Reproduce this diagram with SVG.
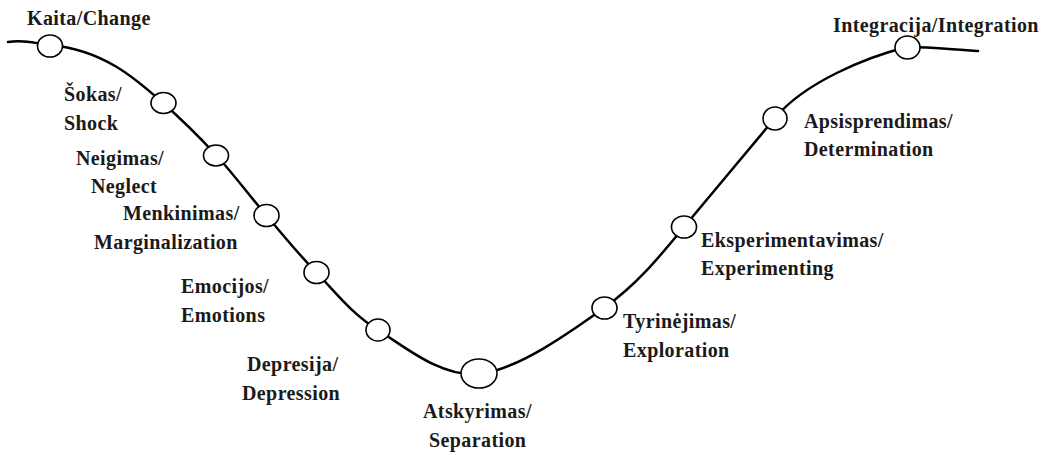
<svg xmlns="http://www.w3.org/2000/svg" width="1052" height="455" viewBox="0 0 1052 455">
<style>
.lbl{font-family:"Liberation Serif","Times New Roman",serif;font-weight:bold;font-size:20px;letter-spacing:0.4px;fill:#1a1a1a}
.node{fill:#fff;stroke:#000;stroke-width:1.6}
.curve{fill:none;stroke:#000;stroke-width:2.5;stroke-linecap:round}
</style>
<rect width="1052" height="455" fill="#fff"/>
<g id="connectors">
<path class="curve" d="M8,42 C20,40 30,42 50,45 C105,50 138,81 163,103 C181.7,119.5 198.8,136.3 216,155 C233.2,173.7 249.3,195.5 266,215 C282.7,234.5 297.3,252.8 316,272 C334.7,291.2 350.8,313 378,330 C405.2,347 441.3,377.7 479,374 C516.7,370.3 569.8,332.5 604,308 C638.2,283.5 660,256 684,227 C709,197 750,148 775,118 C805,82 867,57 907,47 C935,47 955,50 978,51"/>
</g>
<g id="n-kaita"><ellipse class="node" cx="50" cy="46" rx="12.5" ry="11"/><text class="lbl" x="27" y="25">Kaita/Change</text></g>
<g id="n-sokas"><ellipse class="node" cx="163.5" cy="103" rx="12.5" ry="10.5"/><text class="lbl" x="64" y="101">Šokas/</text><text class="lbl" x="64" y="130">Shock</text></g>
<g id="n-neigimas"><ellipse class="node" cx="216" cy="155.5" rx="12.5" ry="10.5"/><text class="lbl" x="76" y="165">Neigimas/</text><text class="lbl" x="91" y="193">Neglect</text></g>
<g id="n-menkinimas"><ellipse class="node" cx="266.5" cy="215.5" rx="12.5" ry="11"/><text class="lbl" x="123" y="220">Menkinimas/</text><text class="lbl" x="94" y="249">Marginalization</text></g>
<g id="n-emocijos"><ellipse class="node" cx="316.5" cy="272.5" rx="12.5" ry="11"/><text class="lbl" x="181" y="293">Emocijos/</text><text class="lbl" x="181" y="322">Emotions</text></g>
<g id="n-depresija"><ellipse class="node" cx="378" cy="330" rx="12" ry="11"/><text class="lbl" x="247" y="371">Depresija/</text><text class="lbl" x="242" y="400">Depression</text></g>
<g id="n-atskyrimas"><ellipse class="node" cx="479" cy="373.5" rx="18" ry="14.5"/><text class="lbl" x="423" y="418">Atskyrimas/</text><text class="lbl" x="429" y="447">Separation</text></g>
<g id="n-tyrinejimas"><ellipse class="node" cx="604.5" cy="308" rx="12.5" ry="11"/><text class="lbl" x="623" y="328">Tyrinėjimas/</text><text class="lbl" x="623" y="357">Exploration</text></g>
<g id="n-eksperimentavimas"><ellipse class="node" cx="684" cy="227" rx="12.5" ry="11"/><text class="lbl" x="701" y="247">Eksperimentavimas/</text><text class="lbl" x="701" y="275">Experimenting</text></g>
<g id="n-apsisprendimas"><ellipse class="node" cx="775" cy="118.5" rx="12" ry="11.5"/><text class="lbl" x="804" y="128">Apsisprendimas/</text><text class="lbl" x="804" y="156">Determination</text></g>
<g id="n-integracija"><ellipse class="node" cx="907.5" cy="47.5" rx="12.5" ry="11.5"/><text class="lbl" x="833" y="32">Integracija/Integration</text></g>
</svg>
